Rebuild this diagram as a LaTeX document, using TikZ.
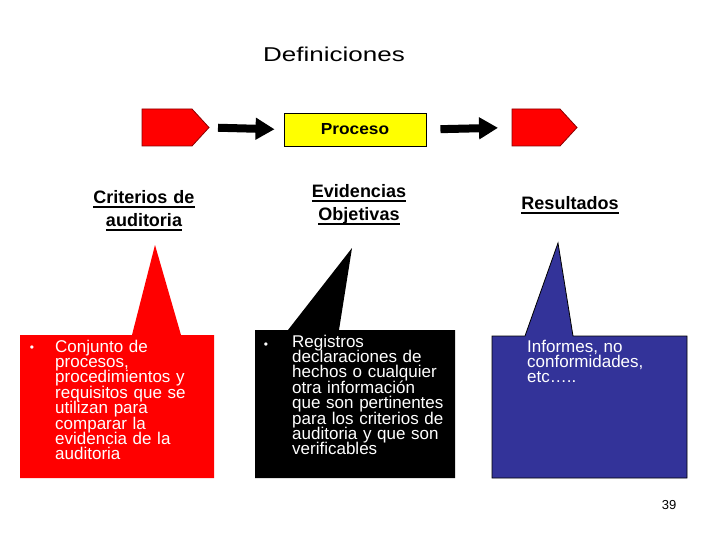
\documentclass[tikz,border=0pt]{standalone}
\usepackage{fontspec}
\usepackage{graphicx}
\setmainfont{Liberation Sans}
\usetikzlibrary{arrows.meta}
\definecolor{boxred}{HTML}{FF0000}
\definecolor{boxblue}{HTML}{333399}
\definecolor{procyellow}{HTML}{FFFF00}
\definecolor{pentborder}{HTML}{8A0000}
\newsavebox\ulbox
\newcommand\myul[1]{\leavevmode\sbox\ulbox{#1}\rlap{\rule[-3.6pt]{\wd\ulbox}{1.5pt}}\usebox\ulbox}
\begin{document}
\begin{tikzpicture}[x=1pt,y=-1pt,
  heading/.style={font={\fontsize{18}{23}\selectfont\bfseries\lineskiplimit=-30pt}, text width=170pt, align=center, anchor=base, inner sep=0pt},
  bodytext/.style={font={\fontsize{17}{15.4}\selectfont\lineskiplimit=-30pt}, text=white, text width=170pt, align=left, anchor=base west, inner sep=0pt},
  bulletmark/.style={font=\fontsize{12}{12}\selectfont, text=white, anchor=base, inner sep=0pt},
  pent/.style={fill=boxred, draw=pentborder, line width=0.8pt},
  procbox/.style={fill=procyellow, draw=black, line width=0.9pt, minimum width=142pt, minimum height=33pt, inner sep=0pt, font=\fontsize{16}{16}\selectfont\bfseries},
  conn/.style={line width=8pt, -{Triangle[length=19pt,width=21pt]}},
]
\useasboundingbox[fill=white] (0,0) rectangle (720,540);

% title
\node[font=\fontsize{20}{24}\selectfont, anchor=base, inner sep=0pt] (title) at (334,62) {\scalebox{1.3}[1]{Definiciones}};

% process row
\path[pent] (142,109) -- (192,109) -- (209,127.5) -- (192,146) -- (142,146) -- cycle;
\coordinate (p1tip) at (209,127.5);
\node[procbox] (proc) at (355,129.5) {\scalebox{1.08}[1]{Proceso}};
\path[pent] (512,109) -- (560,109) -- (577,127.5) -- (560,146) -- (512,146) -- cycle;
\coordinate (p2w) at (512,127.5);
\draw[conn, shorten <=9pt, shorten >=9pt] (p1tip) -- (proc.west);
\draw[conn, shorten <=14pt, shorten >=14pt] (proc.east) -- (p2w);

% headings
\node[heading] (h1) at (144,204) {\myul{Criterios de}\\\myul{auditoria}};
\node[heading] (h2) at (359,198) {\myul{Evidencias}\\\myul{Objetivas}};
\node[heading] (h3) at (570,210) {\myul{Resultados}};

% callouts
\fill[boxred] (20,335) -- (132,335) -- (155,245) -- (181,335) -- (214,335) -- (214,478) -- (20,478) -- cycle;
\fill[black] (255,330) -- (288,330) -- (352,248) -- (339,330) -- (455,330) -- (455,478) -- (255,478) -- cycle;
\filldraw[fill=boxblue, draw=black, line width=0.8pt] (492,336) -- (525,336) -- (558,243) -- (573,336) -- (687,336) -- (687,478) -- (492,478) -- cycle;

\node[bulletmark] (bu1) at (32,351) {•};
\node[bodytext] (t1) at (55,352) {Conjunto de\\procesos,\\procedimientos y\\requisitos que se\\utilizan para\\comparar la\\evidencia de la\\auditoria};
\node[bulletmark] (bu2) at (266,348) {•};
\node[bodytext] (t2) at (292,347) {Registros\\declaraciones de\\hechos o cualquier\\otra información\\que son pertinentes\\para los criterios de\\auditoria y que son\\verificables};
\node[bodytext] (t3) at (527,352) {Informes, no\\conformidades,\\etc\ldots..};

% page number
\node[font=\fontsize{13}{13}\selectfont, anchor=base, inner sep=0pt] (pg) at (669,509) {39};
\end{tikzpicture}
\end{document}
